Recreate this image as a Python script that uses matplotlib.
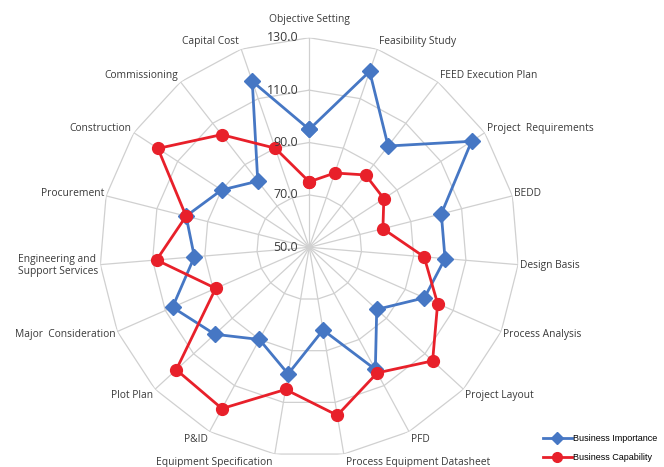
import numpy as np
import matplotlib
matplotlib.use("Agg")
import matplotlib.pyplot as plt
from matplotlib.lines import Line2D

# Categories, clockwise from the top
categories = [
    "Objective Setting", "Feasibility Study", "FEED Execution Plan",
    "Project  Requirements", "BEDD", "Design Basis", "Process Analysis",
    "Project Layout", "PFD", "Process Equipment Datasheet",
    "Equipment Specification", "P&ID", "Plot Plan", "Major  Consideration",
    "Engineering and\nSupport Services", "Procurement", "Construction",
    "Commissioning", "Capital Cost",
]
business_importance = [95, 121, 99, 124, 102, 102, 98, 85, 103, 82,
                       99, 90, 99, 107, 94, 98.5, 90, 82, 117]
business_capability = [75, 80, 85, 84, 79, 94, 103.5, 114, 104.5, 115,
                       105, 120, 119, 89, 108.5, 98.5, 119, 104.5, 90]
ring_values = [70, 90, 110, 130]
tick_values = [50, 70, 90, 110, 130]

r_min, r_max = 50, 130
n = len(categories)
angles = np.arange(n) * 2 * np.pi / n

fig = plt.figure(figsize=(6.64, 4.67), dpi=100)
ax = fig.add_axes([0.1501, 0.0216, 0.6313, 0.8976], projection="polar")
ax.set_theta_zero_location("N")
ax.set_theta_direction(-1)
ax.set_ylim(r_min, r_max)
ax.grid(False)
ax.spines["polar"].set_visible(False)
ax.set_xticks([])
ax.set_yticks([])

grid_color = "#d0d0d0"
closed = np.append(angles, angles[0])
for rv in ring_values:
    ax.plot(closed, [rv] * (n + 1), color=grid_color, lw=0.9, zorder=1)
for a in angles:
    ax.plot([a, a], [r_min, r_max], color=grid_color, lw=0.9, zorder=1)

blue = "#4677c4"
red = "#e8202a"
ax.plot(closed, business_importance + business_importance[:1], color=blue,
        lw=2.0, marker="D", ms=8, zorder=3)
ax.plot(closed, business_capability + business_capability[:1], color=red,
        lw=2.0, marker="o", ms=8.5, zorder=4)

label_font = dict(family="Open Sans", fontsize=7.4, color="#3a3a3a")
px = 0.72
for a, name in zip(angles, categories):
    s, c = np.sin(a), np.cos(a)
    if s > 0.05:
        ha, dx = "left", 2
    elif s < -0.05:
        ha, dx = "right", -2
    else:
        ha, dx = "center", 0
    dy = 18 if abs(s) < 0.05 else 8.5 * c
    ax.annotate(name, xy=(a, r_max), xytext=(dx * px, dy * px),
                textcoords="offset points", ha=ha, va="center",
                multialignment="left", **label_font)

for tv in tick_values:
    ax.annotate(f"{tv:.1f}", xy=(0, tv), xytext=(-11 * px, 0),
                textcoords="offset points", ha="right", va="center",
                family="Open Sans", fontsize=9, color="#3a3a3a", zorder=5)

handles = [
    Line2D([], [], color=blue, lw=2.0, marker="D", ms=6.5),
    Line2D([], [], color=red, lw=2.0, marker="o", ms=7),
]
fig.legend(handles, ["Business Importance", "Business Capability"],
           loc="lower left", bbox_to_anchor=(0.805, -0.006), frameon=False,
           handlelength=3.2, handletextpad=0.2, labelspacing=1.05,
           prop=dict(family=["Liberation Sans Narrow", "Liberation Sans"], size=6.5))

fig.savefig("out.png", dpi=100)
